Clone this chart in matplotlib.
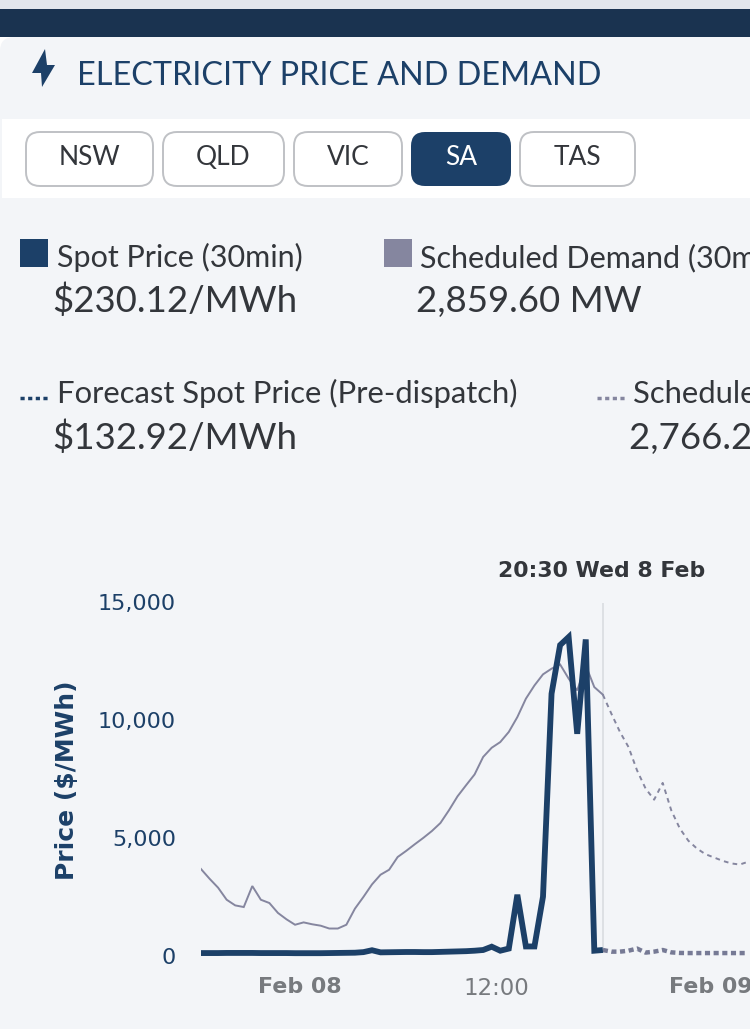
import numpy as np
import matplotlib
matplotlib.use('Agg')
import matplotlib.pyplot as plt
from matplotlib.patches import Rectangle, FancyBboxPatch, Polygon
from matplotlib.transforms import ScaledTranslation

W, H = 750, 1029
NAVY = '#1c4068'
GREY = '#85869f'
BG = '#f3f5f8'
INK = '#33363b'

# half hour steps, step 0 is 21:00 Feb 07, step 47 is 20:30 Feb 08
demand = [3570, 3160, 2780, 2270, 2030, 1960, 2850, 2270, 2130, 1710, 1440, 1210, 1310, 1230, 1170, 1050, 1050, 1210,
          1890, 2390, 2920, 3330, 3540, 4080, 4340, 4620, 4890, 5180, 5520, 6060, 6650, 7120, 7580, 8320, 8710, 8950,
          9380, 10010, 10790, 11350, 11820, 12060, 12240, 11640, 11140, 12200, 11280, 10960]
price = [10, 10, 10, 15, 15, 15, 15, 10, 10, 10, 10, 5, 5, 5, 5, 10, 15, 20, 25, 50, 130, 40, 45, 50, 55, 55,
         50, 50, 60, 70, 80, 90, 110, 140, 280, 110, 200, 2480, 290, 290, 2400, 11000, 13060, 13400, 9300, 13300,
         110, 140]
fc_demand = [10960, 10150, 9380, 8740, 7750, 6980, 6510, 7220, 6060, 5290, 4770, 4440, 4200, 4060, 3920, 3810, 3760, 3880]
fc_price = [140, 70, 70, 110, 200, 30, 70, 140, 40, 15, 10, 10, 10, 10, 10, 10, 10, 10]

y_ticks = [0, 5000, 10000, 15000]
y_labels = ['0', '5,000', '10,000', '15,000']
x_ticks = [6, 30, 54]
x_labels = ['Feb 08', '12:00', 'Feb 09']
tabs = ['NSW', 'QLD', 'VIC', 'SA', 'TAS']
tab_left = [26, 163, 294, 411, 520]
tab_right = [153, 284, 402, 511, 635]

fig = plt.figure(figsize=(W / 100, H / 100), dpi=100, facecolor=BG)

# page furniture in pixel coords
ui = fig.add_axes([0, 0, 1, 1])
ui.set_xlim(0, W)
ui.set_ylim(H, 0)
ui.axis('off')
ui.add_patch(Rectangle((0, 0), W, 9, color='#e2e6ec', lw=0))
ui.add_patch(Rectangle((0, 9), W, 28, color='#1a3350', lw=0))
ui.add_patch(Rectangle((0, 37), 14, 14, color='white', lw=0))
ui.add_patch(FancyBboxPatch((14, 51), 60, 40, boxstyle='round,pad=14,rounding_size=14', color=BG, lw=0))
ui.add_patch(Rectangle((2, 119), W, 79, color='white', lw=0))
ui.add_patch(Polygon([(45, 49), (32, 73), (41, 73), (42, 87), (55, 65), (47, 65)], color=NAVY, lw=0))
ui.text(77, 85, 'ELECTRICITY PRICE AND DEMAND', family='Lato', fontsize=23.3, color=NAVY)

for name, l, r in zip(tabs, tab_left, tab_right):
    active = name == 'SA'
    ui.add_patch(FancyBboxPatch((l + 14, 146), r - l - 28, 26, boxstyle='round,pad=14,rounding_size=14',
                                fc=NAVY if active else 'white', ec='none' if active else '#bfc1c5', lw=1.4))
    ui.text((l + r) / 2, 165, name, family='Lato', fontsize=19, ha='center', color='white' if active else INK)

ui.add_patch(Rectangle((20, 239), 28, 28, color=NAVY, lw=0))
ui.add_patch(Rectangle((384, 239), 28, 28, color=GREY, lw=0))
ui.plot([20, 48], [398, 398], color=NAVY, lw=2.5, dashes=(1.2, 1.0))
ui.plot([597, 625], [398, 398], color=GREY, lw=2.5, dashes=(1.2, 1.0))
ui.text(57, 267, 'Spot Price (30min)', family='Lato', fontsize=22, color=INK)
ui.text(52, 312, '$230.12/MWh', family='Lato', fontsize=26.4, color=INK)
ui.text(420, 267, 'Scheduled Demand (30min)', family='Lato', fontsize=22, color=INK)
ui.text(416, 312, '2,859.60 MW', family='Lato', fontsize=26.4, color=INK)
ui.text(57, 403, 'Forecast Spot Price (Pre-dispatch)', family='Lato', fontsize=22.3, color=INK)
ui.text(52, 449, '$132.92/MWh', family='Lato', fontsize=26.4, color=INK)
ui.text(633, 403, 'Scheduled Demand (Pre-dispatch)', family='Lato', fontsize=22.3, color=INK)
ui.text(629, 449, '2,766.20 MW', family='Lato', fontsize=26.4, color=INK)

# chart: 201px is step 0, 8.55px a step, 953px is zero, 118px per 5000
left, right, top, bottom = 201, 750, 590, 965
ax = fig.add_axes([left / W, 1 - bottom / H, (right - left) / W, (bottom - top) / H])
ax.set_xlim(0, (right - left) / 8.55)
ax.set_ylim((953.3 - bottom) * 5000 / 118, (953.3 - top) * 5000 / 118)
ax.patch.set_alpha(0)
for s in ax.spines.values():
    s.set_visible(False)

steps = np.arange(len(demand))
fc_steps = np.arange(len(fc_demand)) + steps[-1]
ax.vlines(steps[-1], 0, 14850, color='#d9dce0', lw=1.2)
ax.plot(steps, demand, color=GREY, lw=1.4, solid_joinstyle='miter')
ax.plot(fc_steps, fc_demand, color=GREY, lw=1.4, dashes=(2.4, 2.2))
ax.plot(fc_steps, fc_price, color='#767a95', lw=3.2, dashes=(1.15, 0.8))
ax.plot(steps, price, color=NAVY, lw=4.2, solid_joinstyle='miter', solid_capstyle='butt')

ax.set_yticks(y_ticks, y_labels, color=NAVY, fontsize=16)
ax.tick_params(axis='y', length=0, pad=18)
for t in ax.get_yticklabels():
    t.set_verticalalignment('center')
    t.set_transform(t.get_transform() + ScaledTranslation(0, -5 / 100, fig.dpi_scale_trans))
ax.set_xticks(x_ticks, x_labels, fontsize=15.9, color='#777a7e')
ax.tick_params(axis='x', length=0, pad=8.5)
for t, lab in zip(ax.get_xticklabels(), x_labels):
    t.set_horizontalalignment('left')
    t.set_transform(t.get_transform() + ScaledTranslation(6 / 100, 0, fig.dpi_scale_trans))
    if lab.startswith('Feb'):
        t.set_fontweight('bold')
    else:
        t.set_fontsize(16.5)

ui.text(602, 571, '20:30 Wed 8 Feb', fontsize=15.8, fontweight='bold', color=INK, ha='center', va='center')
ui.text(67.5, 780, 'Price ($/MWh)', fontsize=18, fontweight='bold', color=NAVY, rotation=90, ha='center', va='center')

fig.savefig('out.png', dpi=100, facecolor=BG)
